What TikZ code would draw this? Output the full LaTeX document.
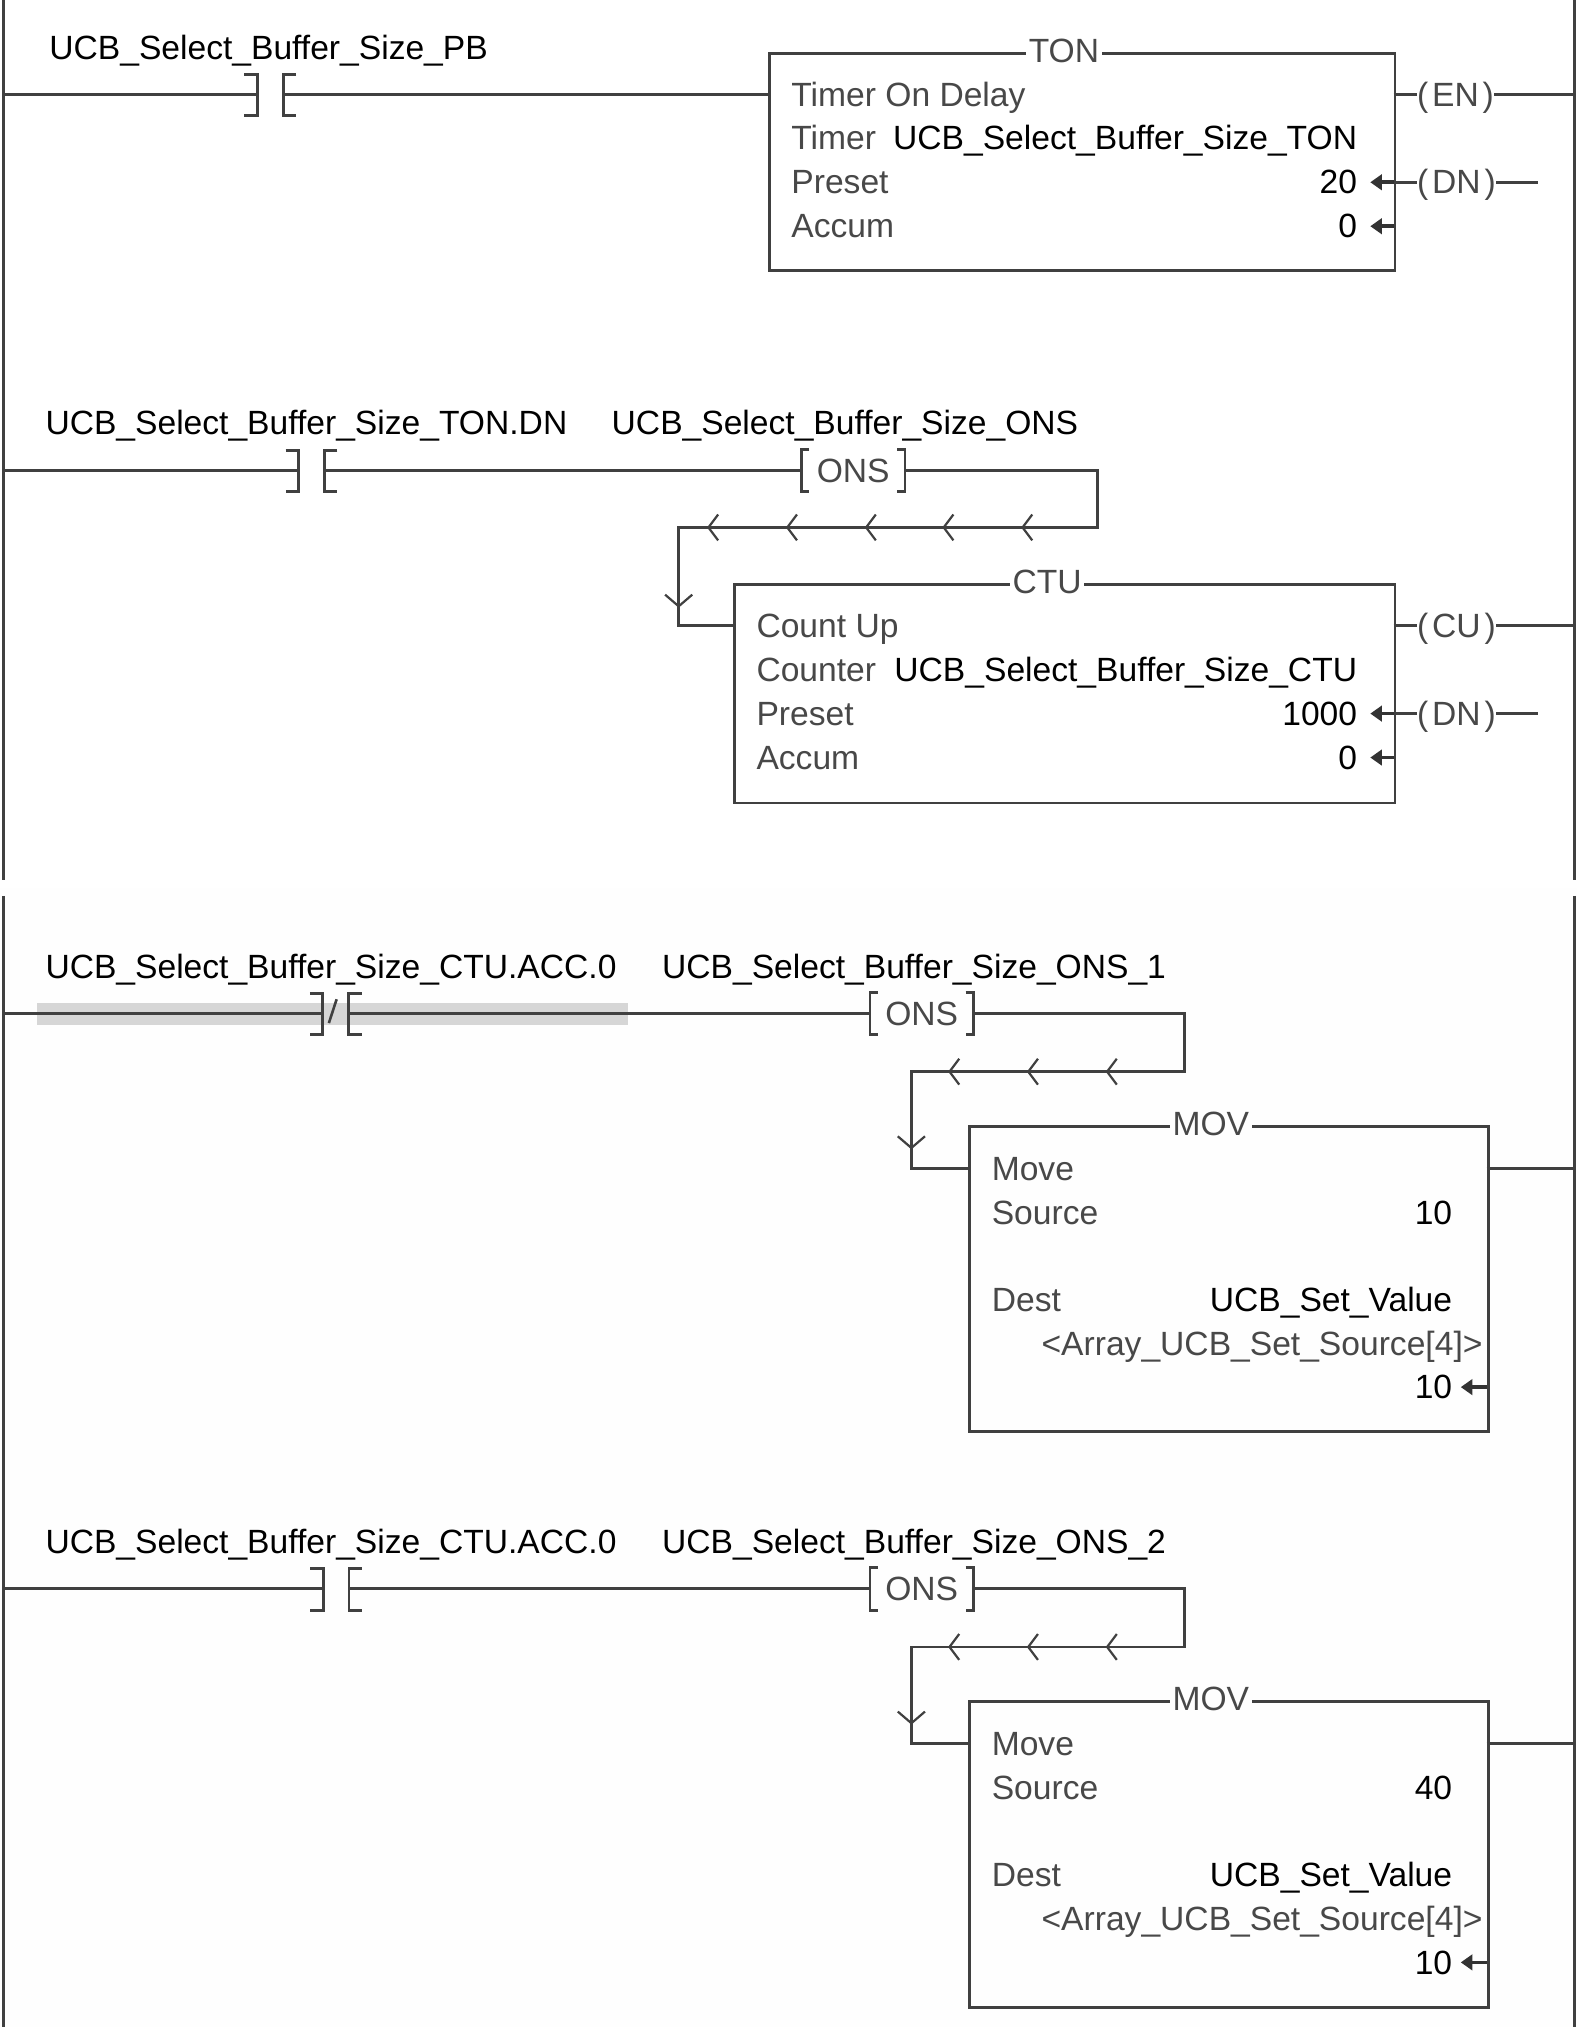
\documentclass[tikz,border=0pt]{standalone}
\usepackage{fontspec}
\setmainfont{Liberation Sans}
\usetikzlibrary{arrows.meta}
\definecolor{lc}{RGB}{64,64,64}
\definecolor{tg}{RGB}{72,72,72}
\definecolor{bgb}{RGB}{254,254,254}
\definecolor{hl}{RGB}{214,214,214}
\tikzset{
 wire/.style={draw=lc, line width=2.2pt},
 chev/.style={draw=lc, line width=1.7pt},
 txt/.style={font=\fontsize{26pt}{30pt}\selectfont, inner sep=0pt, text=black},
 txtg/.style={txt, text=tg},
 fblock/.style={wire, rectangle, inner sep=0pt, anchor=north west},
 ttl/.style={txtg, anchor=base, inner xsep=2pt, inner ysep=1pt},
 rarrow/.style={draw=black!80, line width=2.8pt, -{Triangle[length=9pt,width=12pt]}},
 contactno/.pic={
  \draw[wire] (-20,-15.5) -- (-10,-15.5) -- (-10,16.5) -- (-20,16.5);
  \draw[wire] (20,-15.5) -- (10,-15.5) -- (10,16.5) -- (20,16.5);
  \coordinate (-a) at (-10,0);
  \coordinate (-b) at (10,0);
 },
 onsb/.pic={
  \draw[wire] (-34,-16.5) -- (-40,-16.5) -- (-40,16.5) -- (-34,16.5);
  \draw[wire] (34,-16.5) -- (40,-16.5) -- (40,16.5) -- (34,16.5);
  \node[txtg, anchor=base] (-t) at (0,9.3) {ONS};
  \coordinate (-a) at (-40,0);
  \coordinate (-b) at (40,0);
 },
 chevl/.pic={\draw[chev] (7.5,-10) -- (0,0) -- (7.5,10);},
 chevd/.pic={\draw[chev] (-10.5,-9) -- (0,0) -- (10.5,-9);}
}
\begin{document}
\begin{tikzpicture}[x=1pt,y=-1pt]
\useasboundingbox (0,0) rectangle (1220,1568);
\fill[white] (0,0) rectangle (1220,687);
\fill[bgb] (0,687) rectangle (1220,1568);

% rails
\coordinate (lrA) at (2.5,0); \coordinate (lrB) at (2.5,681);
\coordinate (lrC) at (2.5,693); \coordinate (lrD) at (2.5,1568);
\coordinate (rrA) at (1218,0); \coordinate (rrB) at (1218,681);
\coordinate (rrC) at (1218,693); \coordinate (rrD) at (1218,1568);
\draw[wire] (lrA) -- (lrB); \draw[wire] (lrC) -- (lrD);
\draw[wire] (rrA) -- (rrB); \draw[wire] (rrC) -- (rrD);

% ================= Rung 1 =================
\node[txt, anchor=base west] (lab1) at (38,46) {UCB\_Select\_Buffer\_Size\_PB};
\pic (k1) at (209,73) {contactno};
\node[fblock, minimum width=484pt, minimum height=168pt] (ton) at (594,40) {};
\node[ttl, fill=white] (tonT) at (823,48) {TON};
\node[txtg, anchor=base west] (ton1) at (612,82) {Timer On Delay};
\node[txtg, anchor=base west] (ton2) at (612,116) {Timer};
\node[txt, anchor=base east] (ton2v) at (1050,116) {UCB\_Select\_Buffer\_Size\_TON};
\node[txtg, anchor=base west] (ton3) at (612,150) {Preset};
\node[txt, anchor=base east] (ton3v) at (1050,150) {20};
\node[txtg, anchor=base west] (ton4) at (612,184) {Accum};
\node[txt, anchor=base east] (ton4v) at (1050,184) {0};
\coordinate (L1) at (2.5,73);
\coordinate (R1) at (1218,73);
\draw[wire] (L1) -- (k1-a);
\draw[wire] (k1-b) -- (ton.west |- k1-b);
\node[txtg, anchor=base west] (en) at (1096,82) {(\hspace{3pt}EN\hspace{3pt})};
\coordinate (ton1r) at (1078,73);
\draw[wire] (ton1r) -- (en.west |- ton1r);
\draw[wire] (en.east |- ton1r) -- (R1);
\coordinate (ton3r) at (1078,141);
\coordinate (ton3a) at (1060,141);
\node[txtg, anchor=base west] (dn1) at (1096,150) {(\hspace{3pt}DN\hspace{3pt})};
\coordinate (dn1e) at (1190,141);
\draw[wire] (ton3r) -- (dn1.west |- ton3r);
\draw[wire] (dn1.east |- ton3r) -- (dn1e);
\draw[rarrow] (ton3r) -- (ton3a);
\coordinate (ton4r) at (1078,175);
\coordinate (ton4a) at (1060,175);
\draw[rarrow] (ton4r) -- (ton4a);

% ================= Rung 2 =================
\node[txt, anchor=base west] (lab2a) at (35,336) {UCB\_Select\_Buffer\_Size\_TON.DN};
\node[txt, anchor=base west] (lab2b) at (473,336) {UCB\_Select\_Buffer\_Size\_ONS};
\pic (k2) at (241,364) {contactno};
\pic (o2) at (660,364) {onsb};
\node[fblock, minimum width=511pt, minimum height=169pt] (ctu) at (567,451) {};
\node[ttl, fill=white] (ctuT) at (810,459) {CTU};
\node[txtg, anchor=base west] (ctu1) at (585,493) {Count Up};
\node[txtg, anchor=base west] (ctu2) at (585,527) {Counter};
\node[txt, anchor=base east] (ctu2v) at (1050,527) {UCB\_Select\_Buffer\_Size\_CTU};
\node[txtg, anchor=base west] (ctu3) at (585,561) {Preset};
\node[txt, anchor=base east] (ctu3v) at (1050,561) {1000};
\node[txtg, anchor=base west] (ctu4) at (585,595) {Accum};
\node[txt, anchor=base east] (ctu4v) at (1050,595) {0};
\coordinate (L2) at (2.5,364);
\draw[wire] (L2) -- (k2-a);
\draw[wire] (k2-b) -- (o2-a);
\coordinate (b2a) at (849,364);
\coordinate (b2b) at (849,408);
\coordinate (b2c) at (525,408);
\coordinate (b2d) at (525,484);
\draw[wire] (o2-b) -- (b2a) -- (b2b) -- (b2c) -- (b2d) -- (ctu.west |- b2d);
\foreach \cx in {548,609,670,730,791} \pic at (\cx,408) {chevl};
\pic at (525,469) {chevd};
\coordinate (ctu1r) at (1078,484);
\coordinate (R2) at (1218,484);
\node[txtg, anchor=base west] (cu) at (1096,493) {(\hspace{3pt}CU\hspace{3pt})};
\draw[wire] (ctu1r) -- (cu.west |- ctu1r);
\draw[wire] (cu.east |- ctu1r) -- (R2);
\coordinate (ctu3r) at (1078,552);
\coordinate (ctu3a) at (1060,552);
\node[txtg, anchor=base west] (dn2) at (1096,561) {(\hspace{3pt}DN\hspace{3pt})};
\coordinate (dn2e) at (1190,552);
\draw[wire] (ctu3r) -- (dn2.west |- ctu3r);
\draw[wire] (dn2.east |- ctu3r) -- (dn2e);
\draw[rarrow] (ctu3r) -- (ctu3a);
\coordinate (ctu4r) at (1078,586);
\coordinate (ctu4a) at (1060,586);
\draw[rarrow] (ctu4r) -- (ctu4a);

% ================= Rung 3 =================
\fill[hl] (29,775.5) rectangle (486,792.5);
\node[txt, anchor=base west] (lab3a) at (35,757) {UCB\_Select\_Buffer\_Size\_CTU.ACC.0};
\node[txt, anchor=base west] (lab3b) at (512,757) {UCB\_Select\_Buffer\_Size\_ONS\_1};
\pic (k3) at (259.7,784) {contactno};
\draw[wire, line width=2pt] (260.4,773) -- (254.4,791.4);
\pic (o3) at (713,784) {onsb};
\node[fblock, minimum width=401pt, minimum height=236.5pt] (mov3) at (749,870) {};
\node[ttl, fill=bgb] (mov3T) at (936.6,878) {MOV};
\node[txtg, anchor=base west] (mov3a) at (767,913) {Move};
\node[txtg, anchor=base west] (mov3b) at (767,947) {Source};
\node[txt, anchor=base east] (mov3bv) at (1123.5,947) {10};
\node[txtg, anchor=base west] (mov3c) at (767,1014.4) {Dest};
\node[txt, anchor=base east] (mov3cv) at (1123.5,1014.4) {UCB\_Set\_Value};
\node[txtg, anchor=base east] (mov3d) at (1147,1048.2) {<Array\_UCB\_Set\_Source[4]>};
\node[txt, anchor=base east] (mov3e) at (1123.5,1082) {10};
\coordinate (mov3r) at (1150,1073);
\coordinate (mov3ar) at (1130,1073);
\draw[rarrow] (mov3r) -- (mov3ar);
\coordinate (L3) at (2.5,784);
\draw[wire] (L3) -- (k3-a);
\draw[wire] (k3-b) -- (o3-a);
\coordinate (b3a) at (916,784);
\coordinate (b3b) at (916,829);
\coordinate (b3c) at (705,829);
\coordinate (b3d) at (705,904);
\draw[wire] (o3-b) -- (b3a) -- (b3b) -- (b3c) -- (b3d) -- (mov3.west |- b3d);
\foreach \cx in {734.5,795.4,856.4} \pic at (\cx,829) {chevl};
\pic at (705,888) {chevd};
\coordinate (mov3o) at (1150,904);
\coordinate (R3) at (1218,904);
\draw[wire] (mov3o) -- (R3);

% ================= Rung 4 =================
\node[txt, anchor=base west] (lab4a) at (35,1202) {UCB\_Select\_Buffer\_Size\_CTU.ACC.0};
\node[txt, anchor=base west] (lab4b) at (512,1202) {UCB\_Select\_Buffer\_Size\_ONS\_2};
\pic (k4) at (260,1229) {contactno};
\pic (o4) at (713,1229) {onsb};
\node[fblock, minimum width=401pt, minimum height=237pt] (mov4) at (749,1315) {};
\node[ttl, fill=bgb] (mov4T) at (936.6,1323) {MOV};
\node[txtg, anchor=base west] (mov4a) at (767,1358) {Move};
\node[txtg, anchor=base west] (mov4b) at (767,1392) {Source};
\node[txt, anchor=base east] (mov4bv) at (1123.5,1392) {40};
\node[txtg, anchor=base west] (mov4c) at (767,1459.4) {Dest};
\node[txt, anchor=base east] (mov4cv) at (1123.5,1459.4) {UCB\_Set\_Value};
\node[txtg, anchor=base east] (mov4d) at (1147,1493.2) {<Array\_UCB\_Set\_Source[4]>};
\node[txt, anchor=base east] (mov4e) at (1123.5,1527) {10};
\coordinate (mov4r) at (1150,1518);
\coordinate (mov4ar) at (1130,1518);
\draw[rarrow] (mov4r) -- (mov4ar);
\coordinate (L4) at (2.5,1229);
\draw[wire] (L4) -- (k4-a);
\draw[wire] (k4-b) -- (o4-a);
\coordinate (b4a) at (916,1229);
\coordinate (b4b) at (916,1274);
\coordinate (b4c) at (705,1274);
\coordinate (b4d) at (705,1349);
\draw[wire] (o4-b) -- (b4a) -- (b4b) -- (b4c) -- (b4d) -- (mov4.west |- b4d);
\foreach \cx in {734.5,795.4,856.4} \pic at (\cx,1274) {chevl};
\pic at (705,1333) {chevd};
\coordinate (mov4o) at (1150,1349);
\coordinate (R4) at (1218,1349);
\draw[wire] (mov4o) -- (R4);
\end{tikzpicture}
\end{document}
